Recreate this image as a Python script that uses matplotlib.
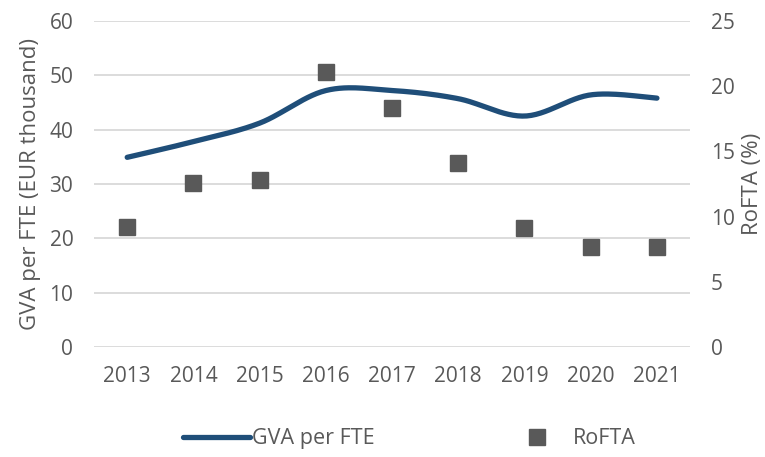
import numpy as np
import matplotlib
matplotlib.use("Agg")
import matplotlib.pyplot as plt

years = ["2013", "2014", "2015", "2016", "2017", "2018", "2019", "2020", "2021"]
gva_per_fte = [34.9, 37.8, 41.2, 47.2, 47.2, 45.7, 42.5, 46.4, 45.8]
rofta = [9.2, 12.6, 12.8, 21.1, 18.3, 14.1, 9.1, 7.7, 7.7]

TEXT = "#595959"
LINE = "#1f4e79"
MARK = "#595959"
GRID = "#d9d9d9"

plt.rcParams['font.family'] = ['Open Sans', 'DejaVu Sans']


def smooth(x, y, steps=30):
    # excel-like smoothed line: cubic bezier segments with catmull-rom control points
    x = np.asarray(x, dtype=float)
    y = np.asarray(y, dtype=float)
    n = len(x)
    xs, ys = [], []
    t = np.linspace(0, 1, steps)
    for i in range(n - 1):
        p0 = np.array([x[max(i - 1, 0)], y[max(i - 1, 0)]])
        p1 = np.array([x[i], y[i]])
        p2 = np.array([x[i + 1], y[i + 1]])
        p3 = np.array([x[min(i + 2, n - 1)], y[min(i + 2, n - 1)]])
        c1 = p1 + (p2 - p0) / 6.0
        c2 = p2 - (p3 - p1) / 6.0
        b = ((1 - t) ** 3)[:, None] * p1 + (3 * (1 - t) ** 2 * t)[:, None] * c1 \
            + (3 * (1 - t) * t ** 2)[:, None] * c2 + (t ** 3)[:, None] * p2
        xs.extend(b[:, 0])
        ys.extend(b[:, 1])
    return xs, ys


fig = plt.figure(figsize=(7.65, 4.57), dpi=100)
ax = fig.add_axes([0.123, 0.241, 0.779, 0.713])
ax2 = ax.twinx()

pos = np.arange(len(years))
sx, sy = smooth(pos, gva_per_fte)
line, = ax.plot(sx, sy, color=LINE, lw=3.8, solid_capstyle='round', zorder=3, label="GVA per FTE")
pts, = ax2.plot(pos, rofta, linestyle='none', marker='s', markersize=11.5,
                color=MARK, markeredgecolor=MARK, zorder=3, label="RoFTA")

ax.set_ylim(0, 60)
ax.set_yticks(range(0, 61, 10))
ax2.set_ylim(0, 25)
ax2.set_yticks(range(0, 26, 5))
ax.set_xlim(-0.5, len(years) - 0.5)
ax.set_xticks(pos)
ax.set_xticklabels(years)

ax.yaxis.grid(True, color=GRID, lw=1.3)
ax.set_axisbelow(True)
for a in (ax, ax2):
    for s in a.spines.values():
        s.set_visible(False)
    a.tick_params(length=0, labelsize=15, colors=TEXT)
ax.tick_params(axis='y', pad=15)
ax.tick_params(axis='x', pad=14)
ax2.tick_params(axis='y', pad=15)

ax.set_ylabel("GVA per FTE (EUR thousand)", fontsize=16, color=TEXT, labelpad=6)
ax2.set_ylabel("RoFTA (%)", fontsize=16, color=TEXT, labelpad=5)

fig.legend(handles=[line, pts], loc='center', bbox_to_anchor=(0.535, 0.04), ncol=2,
           frameon=False, fontsize=15.5, labelcolor=TEXT, handlelength=3.1,
           handletextpad=0.1, columnspacing=6.0)

fig.savefig("out.png", dpi=100)
